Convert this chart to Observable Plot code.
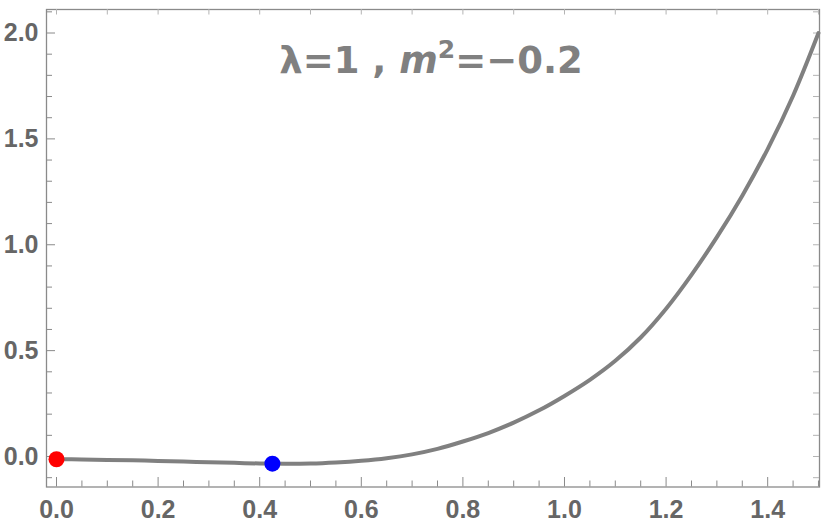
<!DOCTYPE html>
<html>
<head>
<meta charset="utf-8">
<script src="https://cdn.jsdelivr.net/npm/d3@7"></script>
<script src="https://cdn.jsdelivr.net/npm/@observablehq/plot@0.6"></script>
<style>
  html, body { margin: 0; padding: 0; background: #fff; }
  #chart { width: 830px; height: 528px; }
</style>
</head>
<body>
<div id="chart"></div>
<script>
// ---- data ----
const phi = [0, 0.05, 0.1, 0.15, 0.2, 0.25, 0.3, 0.35, 0.4, 0.45, 0.5, 0.55, 0.6, 0.65, 0.7, 0.75,
             0.8, 0.85, 0.9, 0.95, 1.0, 1.05, 1.1, 1.15, 1.2, 1.25, 1.3, 1.35, 1.4, 1.45, 1.5];
const V = [-0.013, -0.014, -0.016, -0.018, -0.021, -0.024, -0.027, -0.030, -0.033, -0.034, -0.033,
           -0.028, -0.020, -0.008, 0.010, 0.036, 0.071, 0.111, 0.160, 0.218, 0.286, 0.362, 0.452,
           0.562, 0.698, 0.858, 1.036, 1.232, 1.452, 1.704, 2.0];
const redPoint = [{x: 0, y: -0.013}];
const bluePoint = [{x: 0.425, y: -0.034}];

const xTickLabels = [0, 0.2, 0.4, 0.6, 0.8, 1.0, 1.2, 1.4];
const xMinorTicks = [0.05, 0.1, 0.15, 0.25, 0.3, 0.35, 0.45, 0.5, 0.55, 0.65, 0.7, 0.75, 0.85, 0.9, 0.95, 1.05, 1.1, 1.15, 1.25, 1.3, 1.35, 1.45, 1.5];
const xTopTicks = [0, 0.1, 0.2, 0.3, 0.4, 0.5, 0.6, 0.7, 0.8, 0.9, 1.0, 1.1, 1.2, 1.3, 1.4, 1.5];
const yTickLabels = [0, 0.5, 1.0, 1.5, 2.0];
const yMinorTicks = [-0.1, 0.1, 0.2, 0.3, 0.4, 0.6, 0.7, 0.8, 0.9, 1.1, 1.2, 1.3, 1.4, 1.6, 1.7, 1.8, 1.9, 2.1];
const yRightTicks = [-0.1, 0, 0.1, 0.2, 0.3, 0.4, 0.5, 0.6, 0.7, 0.8, 0.9, 1.0, 1.1, 1.2, 1.3, 1.4, 1.5, 1.6, 1.7, 1.8, 1.9, 2.0, 2.1];

const curve = phi.map((x, i) => ({x, y: V[i]}));

// ---- layout ----
const W = 830, H = 528;
const mL = 46, mR = 11, mT = 9, mB = 41.5;
const pw = W - mL - mR, ph = H - mT - mB;
const axisGray = "#8a8a8a", lightGray = "#b4b4b4", labelGray = "#666666";
const labelFont = "'Liberation Sans', Arial, sans-serif";

const plot = Plot.plot({
  width: W, height: H,
  marginLeft: mL, marginRight: mR, marginTop: mT, marginBottom: mB,
  style: {fontFamily: labelFont, background: "#fff"},
  x: {domain: [-0.0197, 1.502]},
  y: {domain: [-0.144, 2.111]},
  marks: [
    Plot.frame({stroke: axisGray, strokeWidth: 1.3}),
    // left ticks (inward)
    Plot.tickY(yTickLabels, {y: d => d, insetRight: pw - 9, stroke: axisGray, strokeWidth: 1}),
    Plot.tickY(yMinorTicks, {y: d => d, insetRight: pw - 6, stroke: axisGray, strokeWidth: 1}),
    // right ticks
    Plot.tickY(yRightTicks, {y: d => d, insetLeft: pw - 6, stroke: lightGray, strokeWidth: 1}),
    // bottom ticks
    Plot.tickX(xTickLabels, {x: d => d, insetTop: ph - 9.5, stroke: axisGray, strokeWidth: 1}),
    Plot.tickX(xMinorTicks, {x: d => d, insetTop: ph - 6, stroke: axisGray, strokeWidth: 1}),
    // top ticks
    Plot.tickX(xTopTicks, {x: d => d, insetBottom: ph - 5.5, stroke: lightGray, strokeWidth: 1}),
    // labels
    Plot.axisX({ticks: xTickLabels, tickSize: 0, tickPadding: 13, tickFormat: d => d.toFixed(1),
                fontSize: 25, fontWeight: "bold", color: labelGray, label: null}),
    Plot.axisY({ticks: yTickLabels, tickSize: 0, tickPadding: 8, tickFormat: d => d.toFixed(1),
                fontSize: 25, fontWeight: "bold", color: labelGray, label: null}),
    // curve and points
    Plot.line(curve, {x: "x", y: "y", curve: "catmull-rom", stroke: "#808080", strokeWidth: 4}),
    Plot.dot(redPoint, {x: "x", y: "y", r: 8, fill: "#ff0000", stroke: "none"}),
    Plot.dot(bluePoint, {x: "x", y: "y", r: 8, fill: "#0000ff", stroke: "none"})
  ]
});

// title inside the frame
const svg = d3.select(plot);
const t = svg.append("text")
  .attr("x", 431).attr("y", 73)
  .attr("text-anchor", "middle")
  .attr("font-family", "'DejaVu Sans', sans-serif")
  .attr("font-weight", "bold")
  .attr("font-size", 37)
  .attr("fill", "#808080");
t.append("tspan").text("λ=1 , ");
t.append("tspan").attr("font-style", "italic").text("m");
t.append("tspan").attr("font-size", 25).attr("dy", -15).text("2");
t.append("tspan").attr("dy", 15).text("=−0.2");

document.getElementById("chart").appendChild(plot);
</script>
</body>
</html>
